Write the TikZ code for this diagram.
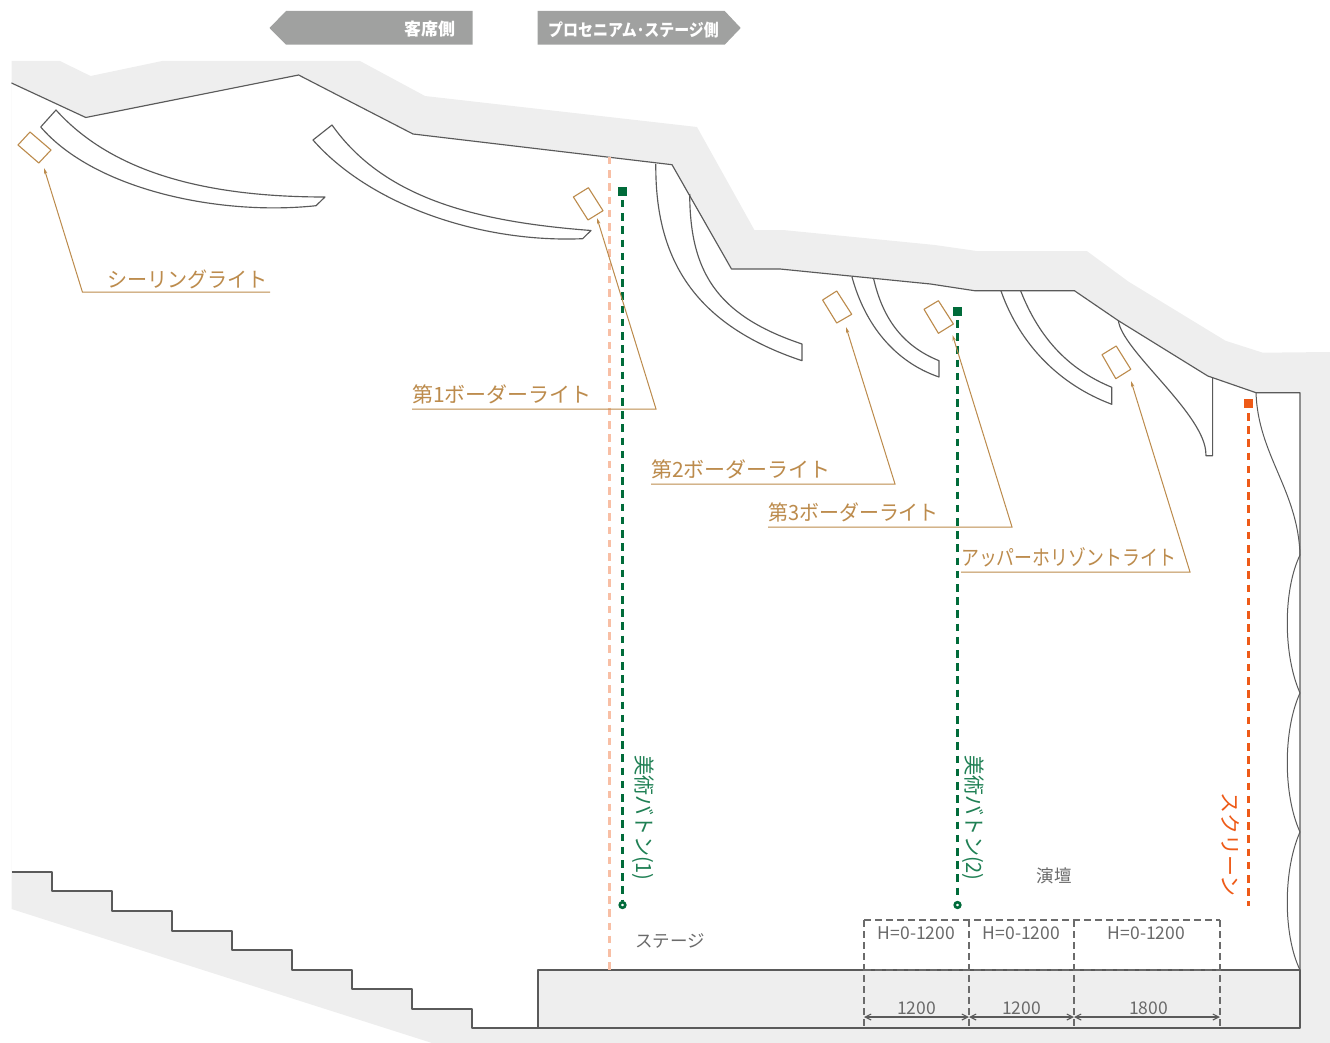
\documentclass[tikz,border=0pt]{standalone}
\usepackage{fontspec}
\setmainfont{Noto Sans CJK JP}
\usetikzlibrary{arrows.meta}
\definecolor{wallgray}{HTML}{EEEEEE}
\definecolor{lineg}{HTML}{5A5A5A}
\definecolor{brownc}{HTML}{BC8B4C}
\definecolor{greenc}{HTML}{006B3A}
\definecolor{greentx}{HTML}{1F8054}
\definecolor{orangec}{HTML}{EE5A17}
\definecolor{salmonc}{HTML}{F8BFA5}
\definecolor{bannerc}{HTML}{A0A1A0}
\definecolor{grytx}{HTML}{6A6A6A}
\tikzset{
  arch/.style={draw=lineg,line width=1.15pt,line join=round},
  lamp/.style={draw=brownc,line width=1.1pt,line join=round},
  leader/.style={draw=brownc,line width=1pt,-{Stealth[length=6pt,width=3.4pt]}},
  lbl/.style={inner sep=0pt,text=brownc,font=\fontsize{21}{21}\selectfont,anchor=base west},
  batten/.style={dash pattern=on 7.5pt off 5.7pt,line width=3.4pt},
  dimbox/.style={draw=lineg!90,line width=1.2pt,dash pattern=on 7pt off 4pt},
  dimline/.style={draw=lineg,line width=1.1pt,{Straight Barb[length=6pt,width=6pt]}-{Straight Barb[length=6pt,width=6pt]}},
  grytxt/.style={inner sep=0pt,text=grytx,font=\fontsize{17.5}{17.5}\selectfont},
  banner/.style={fill=bannerc,draw=none},
  bannertxt/.style={inner sep=0pt,text=white,font=\fontsize{17}{17}\selectfont\bfseries},
  vtxt/.style={inner sep=0pt,rotate=-90,anchor=base west,font=\fontsize{21}{21}\selectfont}
}
\begin{document}
\begin{tikzpicture}[x=1pt,y=-1pt]
\useasboundingbox (0,0) rectangle (1330,1043);
% gray mass
\fill[wallgray] (11.5,61) -- (60,61) -- (90.6,76) -- (162,61) -- (360,61) -- (425,96) -- (697,127) -- (754.4,230) -- (783,230) -- (935,245) -- (976.7,251) -- (1086.8,251) -- (1128.6,281.7) -- (1225.4,340.7) -- (1262.8,352.7) -- (1330,352) -- (1330,1043) -- (432,1043) -- (11.5,909) -- cycle;
% interior
\fill[white] (11.5,83) -- (85.8,117.5) -- (298.6,75) -- (413,134) -- (672,164.7) -- (731.5,269) -- (780,269) -- (930.5,284) -- (974.5,290.7) -- (1074.4,290.7) -- (1118.4,320.7) -- (1207.8,376) -- (1256,392.7) -- (1300,392.7) -- (1300,970) -- (538,970) -- (538,1028) -- (472,1028) -- (472,1009) -- (412,1009) -- (412,989) -- (352,989) -- (352,970) -- (292,970) -- (292,950) -- (232,950) -- (232,931) -- (172,931) -- (172,911) -- (112,911) -- (112,891) -- (52,891) -- (52,872) -- (11.5,872) -- cycle;
% outlines
\draw[arch] (11.5,83) -- (85.8,117.5) -- (298.6,75) -- (413,134) -- (672,164.7) -- (731.5,269) -- (780,269) -- (930.5,284) -- (974.5,290.7) -- (1074.4,290.7) -- (1118.4,320.7) -- (1207.8,376) -- (1256,392.7) -- (1300,392.7) -- (1300,970);
\draw[arch] (11.5,872) -- (52,872) -- (52,891) -- (112,891) -- (112,911) -- (172,911) -- (172,931) -- (232,931) -- (232,950) -- (292,950) -- (292,970) -- (352,970) -- (352,989) -- (412,989) -- (412,1009) -- (472,1009) -- (472,1028) -- (1300,1028) -- (1300,970) -- (538,970) -- (538,1028);
% reflectors
\draw[arch] (56,110) .. controls (110,170) and (200,197) .. (325,197) -- (316,205.7) .. controls (220,216) and (95,190) .. (40.7,127) -- cycle;
\draw[arch] (332,125) .. controls (385,200) and (480,222) .. (591,230.5) -- (582.6,238.7) .. controls (480,243) and (370,205) .. (313,140) -- cycle;
\draw[arch] (655.8,164) .. controls (655,260) and (695,325) .. (802,360.7) -- (802,344) .. controls (715,315) and (690,270) .. (689.7,194);
\draw[arch] (852,277) .. controls (865,325) and (895,362) .. (939,377) -- (939,360.7) .. controls (900,345) and (882,315) .. (873.7,279);
\draw[arch] (1001,291) .. controls (1020,345) and (1060,385) .. (1111.8,404.3) -- (1111.8,387.3) .. controls (1070,370) and (1040,340) .. (1020.7,291);
\draw[arch] (1118.4,320.7) .. controls (1122,350) and (1200,410) .. (1205.6,450) -- (1206,455.7) -- (1212.6,455.7) -- (1212.6,377);
% curtain
\draw[arch,line width=1pt] (1256,392.7) .. controls (1258,455) and (1298,490) .. (1300,555) .. controls (1283,590) and (1283,655) .. (1300,693) .. controls (1283,730) and (1283,795) .. (1300,832) .. controls (1283,870) and (1283,935) .. (1300,970);
% salmon line
\draw[salmonc,batten] (609.5,157) -- (609.5,970);
% lamps
\draw[lamp] (18,145) -- (30,132) -- (51,150) -- (38.8,163) -- cycle;
\draw[lamp] (573.4,197) -- (588.4,187.7) -- (603,210.7) -- (588,220) -- cycle;
\draw[lamp] (822.6,300) -- (836.7,291) -- (851.7,314.3) -- (836.7,323) -- cycle;
\draw[lamp] (924,309.3) -- (938.4,300.7) -- (953.4,324) -- (938.4,333.3) -- cycle;
\draw[lamp] (1102,354.7) -- (1116.2,346) -- (1130.8,369.3) -- (1115.8,378.7) -- cycle;
% battens
\fill[greenc] (618,187) rectangle (627,196);
\fill[greenc] (953,307) rectangle (962,316);
\fill[orangec] (1244.3,399) rectangle (1253,408);
\coordinate (b1t) at (622.5,200);
\coordinate (b1e) at (622.5,900);
\coordinate (b2t) at (957.5,320);
\coordinate (b2e) at (957.5,900);
\coordinate (st) at (1248.5,413);
\coordinate (se) at (1248.5,906);
\draw[greenc,batten] (b1t) -- (b1e);
\draw[greenc,batten] (b2t) -- (b2e);
\draw[orangec,batten] (st) -- (se);
\draw[greenc,line width=2.6pt,fill=white] (622.5,905) circle (2.8pt);
\draw[greenc,line width=2.6pt,fill=white] (957.5,905) circle (2.8pt);
% labels and leaders
\node[lbl] (ceil) at (107,287) {\scalebox{.957}[1]{シーリングライト}};
\node[lbl] (b1) at (412,402) {第1ボーダーライト};
\node[lbl] (b2) at (651,477) {第2ボーダーライト};
\node[lbl] (b3) at (768,520) {\scalebox{.95}[1]{第3ボーダーライト}};
\node[lbl] (up) at (961,565) {\scalebox{.852}[1]{アッパーホリゾントライト}};
\coordinate (c0) at (270,292); \coordinate (c1) at (82.4,292); \coordinate (c2) at (44,168);
\coordinate (d0) at (412,409); \coordinate (d1) at (656,409); \coordinate (d2) at (597,218);
\coordinate (e0) at (651,484); \coordinate (e1) at (895,484); \coordinate (e2) at (846,327);
\coordinate (f0) at (768,527); \coordinate (f1) at (1012,527); \coordinate (f2) at (952.5,335);
\coordinate (g0) at (961,572); \coordinate (g1) at (1190,572); \coordinate (g2) at (1131,381);
\draw[leader] (c0) -- (c1) -- (c2);
\draw[leader] (d0) -- (d1) -- (d2);
\draw[leader] (e0) -- (e1) -- (e2);
\draw[leader] (f0) -- (f1) -- (f2);
\draw[leader] (g0) -- (g1) -- (g2);
% vertical labels
\node[vtxt,text=greentx] (v1) at (636,755) {\scalebox{.955}[1]{美術バトン(1)}};
\node[vtxt,text=greentx] (v2) at (966,755) {\scalebox{.955}[1]{美術バトン(2)}};
\node[vtxt,text=orangec] (v3) at (1222,792) {\scalebox{1}[1]{スクリーン}};
% gray text
\node[grytxt] (enb) at (1054,876) {演壇};
\node[grytxt] (stg) at (670,941) {ステージ};
\node[grytxt] (h1) at (916.5,933) {H=0-1200};
\node[grytxt] (h2) at (1021.5,933) {H=0-1200};
\node[grytxt] (h3) at (1146.5,933) {H=0-1200};
\node[grytxt] (w1) at (916.5,1008) {1200};
\node[grytxt] (w2) at (1021.5,1008) {1200};
\node[grytxt] (w3) at (1148.5,1008) {1800};
% dashed boxes
\draw[dimbox] (864,920) -- (1220,920);
\draw[dimbox] (864,970) -- (1220,970);
\foreach \x in {864,969,1074,1220} \draw[dimbox] (\x,920) -- (\x,1028);
\coordinate (m0) at (864,1017); \coordinate (m1) at (969,1017); \coordinate (m2) at (1074,1017); \coordinate (m3) at (1220,1017);
\draw[dimline] (m0) -- (m1);
\draw[dimline] (m1) -- (m2);
\draw[dimline] (m2) -- (m3);
% banners
\fill[banner] (269.5,28) -- (286,11) -- (472.6,11) -- (472.6,44.7) -- (286,44.7) -- cycle;
\fill[banner] (537.6,11) -- (724.7,11) -- (740.7,28) -- (724.7,44.7) -- (537.6,44.7) -- cycle;
\node[bannertxt] (bl) at (429.5,29.5) {客席側};
\node[bannertxt] (br) at (633.5,29.5) {\scalebox{.88}[1]{プロセニアム･ステージ側}};
\end{tikzpicture}
\end{document}
